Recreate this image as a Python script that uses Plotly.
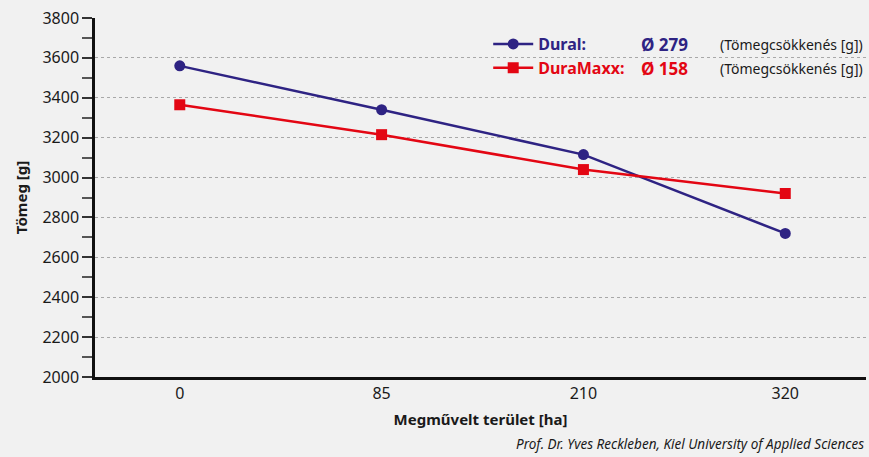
import plotly.graph_objects as go

categories = ["0", "85", "210", "320"]
dural = [3560, 3340, 3115, 2720]
duramaxx = [3365, 3215, 3040, 2920]
dural_loss = "Ø 279"
duramaxx_loss = "Ø 158"
y_ticks = list(range(2000, 3801, 200))

BLUE = "#2e2383"
RED = "#e30613"
BG = "#f1f1f1"
FONT = "Noto Sans"

fig = go.Figure()
fig.add_trace(go.Scatter(
    x=categories, y=dural, mode="lines+markers",
    name=f"<b><span style='color:{BLUE}'>Dural:</span></b>",
    line=dict(color=BLUE, width=2.5), marker=dict(symbol="circle", size=11, color=BLUE)))
fig.add_trace(go.Scatter(
    x=categories, y=duramaxx, mode="lines+markers",
    name=f"<b><span style='color:{RED}'>DuraMaxx:</span></b>",
    line=dict(color=RED, width=2.5), marker=dict(symbol="square", size=11, color=RED)))

fig.update_layout(
    width=869, height=457,
    margin=dict(l=95, r=3, t=18, b=80),
    paper_bgcolor=BG, plot_bgcolor=BG,
    font=dict(family=FONT, color="#1a1a1a", size=15),
    showlegend=True,
    legend=dict(x=0.51, y=0.975, xanchor="left", yanchor="top",
                bgcolor="rgba(0,0,0,0)", font=dict(size=16, family=FONT),
                itemwidth=40, tracegroupgap=0),
    xaxis=dict(type="category", range=[-0.42, 3.40], showgrid=False,
               showline=True, linecolor="#111", linewidth=2.5, ticks="",
               tickfont=dict(size=16),
               title=dict(text="<b>Megművelt terület [ha]</b>", font=dict(size=15), standoff=12)),
    yaxis=dict(range=[2000, 3800], tickvals=y_ticks, showgrid=True,
               gridcolor="#a8a8a8", griddash="dot", gridwidth=1.2,
               showline=True, linecolor="#111", linewidth=2.5,
               ticks="outside", ticklen=10, tickcolor="#333", tickwidth=1.5,
               minor=dict(dtick=100, ticks="outside", ticklen=10, tickcolor="#555", showgrid=False),
               tickfont=dict(size=16), zeroline=False,
               title=dict(text="<b>Tömeg [g]</b>", font=dict(size=15), standoff=12)),
)

# legend value annotations
for txt, col, yy in [(dural_loss, BLUE, 0.925), (duramaxx_loss, RED, 0.858)]:
    fig.add_annotation(xref="paper", yref="paper", x=0.772, y=yy, text=f"<b>{txt}</b>",
                       showarrow=False, xanchor="right", yanchor="middle",
                       font=dict(size=17, color=col, family=FONT))
    fig.add_annotation(xref="paper", yref="paper", x=0.808, y=yy, text="(Tömegcsökkenés [g])",
                       showarrow=False, xanchor="left", yanchor="middle",
                       font=dict(size=14, color="#1a1a1a", family=FONT))

fig.add_annotation(xref="paper", yref="paper", x=1.0, y=-0.155, yanchor="top", xanchor="right",
                   text="<i>Prof. Dr. Yves Reckleben, Kiel University of Applied Sciences</i>",
                   showarrow=False, font=dict(size=13.5, color="#1a1a1a", family=FONT))

fig.write_html("out.html", config={"displayModeBar": False},
               post_script="document.body.style.margin='0';")
